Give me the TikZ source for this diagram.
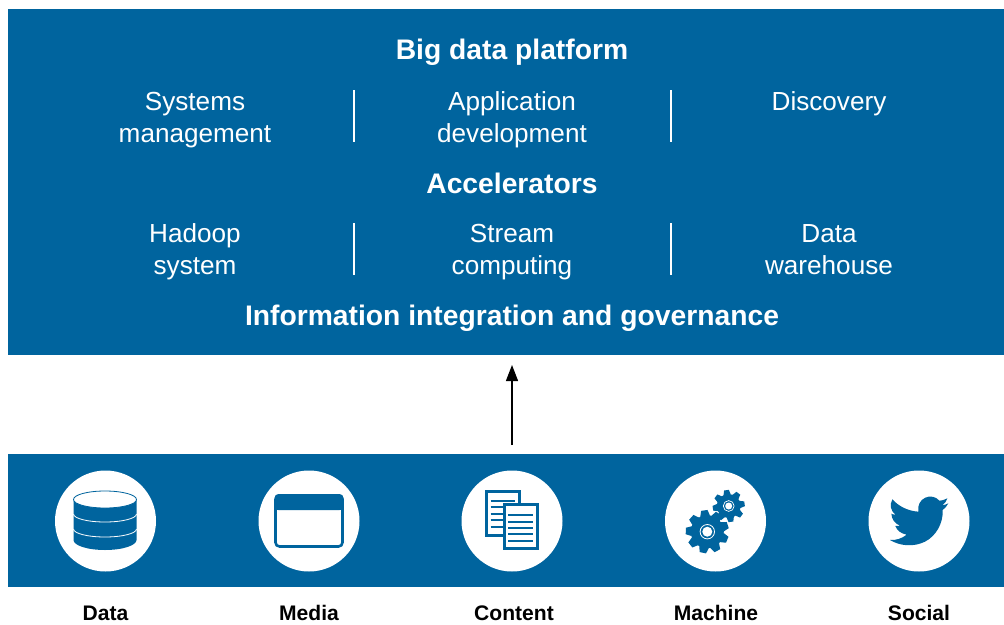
\documentclass[tikz,border=0pt]{standalone}
\usepackage{fontspec}
\setmainfont{Liberation Sans}
\usetikzlibrary{arrows.meta}
\newlength{\du}
\setlength{\du}{0.75pt}
\definecolor{panelblue}{RGB}{0,100,158}
\tikzset{
  panel/.style={fill=panelblue,inner sep=0pt,outer sep=0pt},
  title/.style={text=white,anchor=base,font=\fontsize{21.2}{24}\selectfont\bfseries,inner sep=0pt},
  item/.style={text=white,font=\fontsize{19.6}{24}\selectfont,align=center,inner sep=0pt},
  divider/.style={draw=white,line width=2.4\du},
  disc/.style={circle,fill=white,minimum size=101\du,inner sep=0pt},
  caption/.style={anchor=base,font=\fontsize{15.8}{18}\selectfont\bfseries,inner sep=0pt},
  flow/.style={draw=black,line width=1.3\du,-{Triangle[length=12pt,width=9pt]}}
}
% gear: centre, tooth radius, root radius, tooth count
\newcommand{\gearwheel}[4]{
  \fill[panelblue] #1 circle[radius=#3];
  \pgfmathsetmacro{\gearstep}{360/#4}
  \foreach \k in {1,...,#4}{
    \begin{scope}[shift={#1},rotate=\k*\gearstep+8]
    \fill[panelblue] (-0.23*#2,-#3+1) -- (-0.15*#2,-#2) -- (0.15*#2,-#2) -- (0.23*#2,-#3+1) -- cycle;
    \end{scope}
  }
}
\begin{document}
\begin{tikzpicture}[x=\du,y=-\du]
\useasboundingbox (0,0) rectangle (1004,625);
\fill[white] (0,0) rectangle (1004,625);
\node[panel,minimum width=996\du,minimum height=346\du] (platform) at (506,182) {};
\node[panel,minimum width=996\du,minimum height=133\du] (sources) at (506,520.5) {};
% upper panel
\node[title] (bigdata) at (512,59) {Big data platform};
\node[item] (systems) at (195,120) {Systems\\management};
\node[item] (appdev) at (512,120) {Application\\development};
\node[item] (discovery) at (829,104) {Discovery};
\node[title] (accel) at (512,193) {Accelerators};
\node[item] (hadoop) at (195,252) {Hadoop\\system};
\node[item] (stream) at (512,252) {Stream\\computing};
\node[item] (warehouse) at (829,250) {Data\\warehouse};
\node[title] (integration) at (512,325) {Information integration and governance};
\draw[divider] (354,90) -- (354,142);
\draw[divider] (671,90) -- (671,142);
\draw[divider] (354,223) -- (354,275);
\draw[divider] (671,223) -- (671,275);
% discs
\node[disc] (datadisc) at (105.5,521) {};
\node[disc] (mediadisc) at (309,521) {};
\node[disc] (contentdisc) at (512,521) {};
\node[disc] (machinedisc) at (715.5,521) {};
\node[disc] (socialdisc) at (919,521) {};
\draw[flow,shorten <=9\du,shorten >=10\du] (contentdisc |- sources.north) -- (contentdisc |- platform.south);
% data icon
\fill[panelblue] (73.5,499) -- (73.5,540) arc[start angle=180,end angle=0,x radius=31.5,y radius=10] -- (136.5,499) -- cycle;
\draw[white,line width=0.8\du] (73.5,514) arc[start angle=180,end angle=0,x radius=31.5,y radius=8];
\draw[white,line width=0.8\du] (73.5,529) arc[start angle=180,end angle=0,x radius=31.5,y radius=8];
\draw[panelblue,fill=white,line width=0.8\du] (105,499.5) ellipse[x radius=31.5,y radius=8.5];
% media icon
\draw[panelblue,fill=white,line width=2.6\du,rounded corners=4\du] (275.5,495.5) rectangle (342.5,546.5);
\fill[panelblue,rounded corners=4\du] (274.5,494) rectangle (343.5,510);
\fill[panelblue] (274.5,503) rectangle (343.5,510);
% content icon
\draw[panelblue,fill=white,line width=3\du] (486.5,491) rectangle (519.5,535.5);
\foreach \y in {500.7,507.3,513.7,520,526.7}
  \draw[panelblue,line width=2\du] (490.7,\y) -- (515,\y);
\draw[panelblue,fill=white,line width=3\du] (504.8,504.8) rectangle (537.8,548.5);
\foreach \y in {514.7,521.7,528,534.3,540.7}
  \draw[panelblue,line width=2\du] (508.3,\y) -- (533.3,\y);
% machine icon
\gearwheel{(707.3,531.7)}{21.5}{16.5}{9}
\gearwheel{(728.7,506)}{16}{12}{8}
\draw[white,line width=0.8\du] (707.3,531.7) circle[radius=7.2];
\fill[white] (707.3,531.7) circle[radius=5];
\draw[white,line width=0.7\du] (728.7,506) circle[radius=5.4];
\fill[white] (728.7,506) circle[radius=3.5];
% social icon
\begin{scope}[shift={(850,460)},scale=1/3]
\fill[panelblue] (292,115) .. controls (283,120) and (275,122) .. (268,122)
  .. controls (258,110) and (240,106) .. (226,113)
  .. controls (210,120) and (202,137) .. (205,155)
  .. controls (175,153) and (147,140) .. (127,118)
  .. controls (118,135) and (122,152) .. (136,164)
  .. controls (131,164) and (127,163) .. (124,161)
  .. controls (125,178) and (135,192) .. (151,197)
  .. controls (146,199) and (141,199) .. (136,198)
  .. controls (141,212) and (154,221) .. (170,224)
  .. controls (155,236) and (138,241) .. (120,240)
  .. controls (150,258) and (190,262) .. (225,245)
  .. controls (258,228) and (280,190) .. (278,150)
  .. controls (285,145) and (291,138) .. (295,130)
  .. controls (289,133) and (283,135) .. (277,136)
  .. controls (284,131) and (289,124) .. (292,115) -- cycle;
\end{scope}
% captions
\node[caption] (datalabel) at (105.5,620) {Data};
\node[caption] (medialabel) at (309,620) {Media};
\node[caption] (contentlabel) at (514,620) {Content};
\node[caption] (machinelabel) at (716,620) {Machine};
\node[caption] (sociallabel) at (919,620) {Social};
\end{tikzpicture}
\end{document}
